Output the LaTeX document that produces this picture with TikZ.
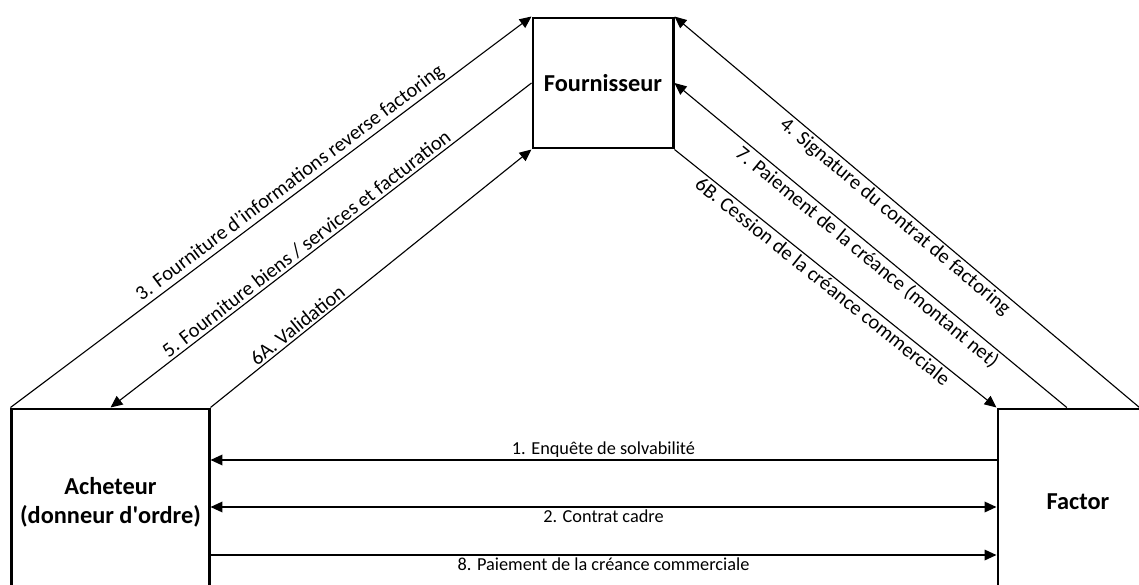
\documentclass[tikz,border=0pt]{standalone}
\usepackage{fontspec}
\setmainfont{Carlito}
\usetikzlibrary{arrows.meta}

\tikzset{
  partie/.style={draw, rectangle, line width=2.1pt, align=center, font=\fontsize{17.3}{20.5}\selectfont\bfseries},
  flux/.style={->, line width=0.8pt},
  fluxh/.style={line width=1.2pt},
  lbl/.style={font=\fontsize{13}{15.6}\selectfont, inner sep=1.5pt},
  lbld/.style={lbl, font=\fontsize{14.5}{17}\selectfont, sloped},
}

\begin{document}
\begin{tikzpicture}[>={Triangle[length=8.5pt,width=7.5pt]}, x=0.025cm, y=-0.025cm]
\useasboundingbox (0,0) rectangle (1139,585);
\clip (0,0) rectangle (1139,585);

% Parties
\node[partie, minimum width=3.5cm, minimum height=3.25cm] (fourn) at (603,83) {Fournisseur};
\node[partie, minimum width=4.925cm, minimum height=4.65cm] (achet) at (110.5,502) {Acheteur\\(donneur d\textquotesingle ordre)};
\node[partie, minimum width=4cm, minimum height=4.65cm] (factor) at (1078,502) {Factor};

% Acheteur <-> Fournisseur
\draw[flux] (achet.north west) -- node[lbld, above, pos=0.55] {3. Fourniture d'informations reverse factoring} (fourn.north west);
\draw[flux] (fourn.west) -- node[lbld, above, pos=0.52] {5. Fourniture biens / services et facturation} (achet.north);
\draw[flux] (achet.north east) -- node[lbld, above, pos=0.29] {6A. Validation} (fourn.south west);

% Factor <-> Fournisseur
\draw[flux] ([xshift=-0.5cm]factor.north east) -- node[lbld, below, pos=0.51] {4. Signature du contrat de factoring} (fourn.north east);
\draw[flux] ([xshift=-0.28cm]factor.north) -- node[lbld, below, pos=0.49] {7. Paiement de la créance (montant net)} (fourn.east);
\draw[flux] (fourn.south east) -- node[lbld, below, pos=0.48] {6B. Cession de la créance commerciale} (factor.north west);

% Acheteur <-> Factor
\draw[fluxh, ->] ([yshift=1.05cm]factor.west) -- node[lbl, above] {1. Enquête de solvabilité} ([yshift=1.05cm]achet.east);
\draw[fluxh, <->] ([yshift=-0.125cm]achet.east) -- node[lbl, below] {2. Contrat cadre} ([yshift=-0.125cm]factor.west);
\draw[fluxh, ->] ([yshift=-1.325cm]achet.east) -- node[lbl, below] {8. Paiement de la créance commerciale} ([yshift=-1.325cm]factor.west);
\end{tikzpicture}
\end{document}
